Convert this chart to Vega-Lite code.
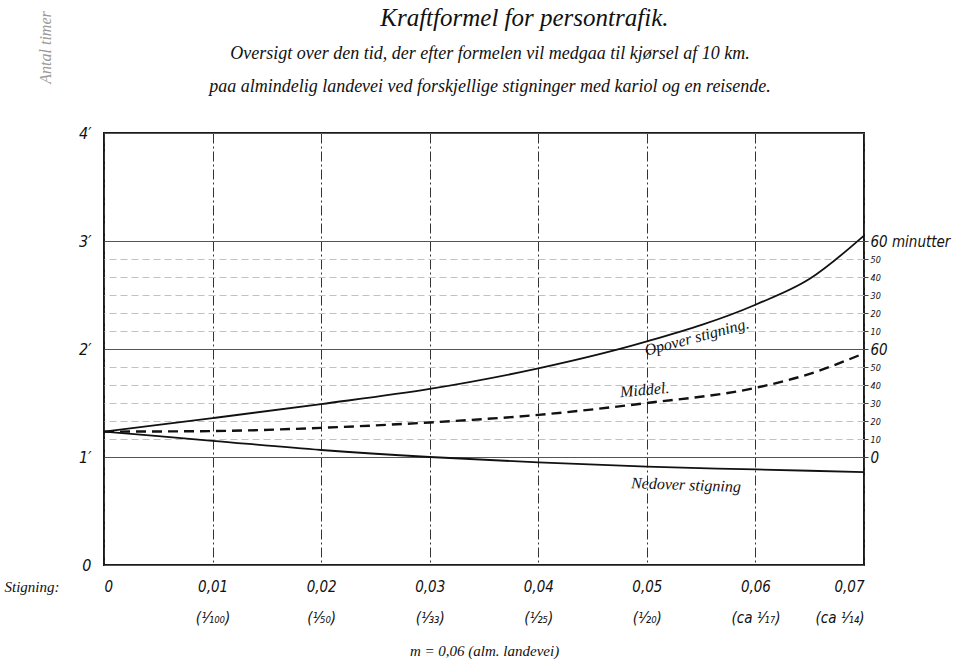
{
  "$schema": "https://vega.github.io/schema/vega-lite/v6.json",
  "width": 760,
  "height": 432,
  "autosize": "none",
  "padding": {"left": 104, "top": 133, "right": 89, "bottom": 98},
  "background": "white",
  "config": {
    "view": {"stroke": "#1a1a1a", "strokeWidth": 2},
    "font": "Liberation Serif"
  },
  "title": {
    "text": "\u200b\u00a0\u00a0\u00a0\u00a0\u00a0\u00a0\u00a0\u00a0\u00a0\u00a0\u00a0Kraftformel for persontrafik.",
    "subtitle": [
      "Oversigt over den tid, der efter formelen vil medgaa til kjørsel af 10 km.",
      "paa almindelig landevei ved forskjellige stigninger med kariol og en reisende."
    ],
    "anchor": "middle",
    "dx": 6,
    "offset": -85,
    "font": "Liberation Serif",
    "fontSize": 25,
    "fontStyle": "italic",
    "fontWeight": "normal",
    "color": "#111",
    "subtitleFont": "Liberation Serif",
    "subtitleFontSize": 18,
    "subtitleFontStyle": "italic",
    "subtitleColor": "#111",
    "subtitleLineHeight": 33,
    "subtitlePadding": 14
  },
  "datasets": {
    "curves": [
      {"serie": "Opover stigning", "stigning": 0, "timer": 1.235},
      {"serie": "Opover stigning", "stigning": 0.01, "timer": 1.36},
      {"serie": "Opover stigning", "stigning": 0.02, "timer": 1.49},
      {"serie": "Opover stigning", "stigning": 0.03, "timer": 1.63},
      {"serie": "Opover stigning", "stigning": 0.04, "timer": 1.82},
      {"serie": "Opover stigning", "stigning": 0.05, "timer": 2.07},
      {"serie": "Opover stigning", "stigning": 0.06, "timer": 2.41},
      {"serie": "Opover stigning", "stigning": 0.065, "timer": 2.65},
      {"serie": "Opover stigning", "stigning": 0.07, "timer": 3.05},
      {"serie": "Middel", "stigning": 0, "timer": 1.235},
      {"serie": "Middel", "stigning": 0.01, "timer": 1.24},
      {"serie": "Middel", "stigning": 0.02, "timer": 1.27},
      {"serie": "Middel", "stigning": 0.03, "timer": 1.32},
      {"serie": "Middel", "stigning": 0.04, "timer": 1.39},
      {"serie": "Middel", "stigning": 0.05, "timer": 1.5},
      {"serie": "Middel", "stigning": 0.06, "timer": 1.64},
      {"serie": "Middel", "stigning": 0.065, "timer": 1.77},
      {"serie": "Middel", "stigning": 0.07, "timer": 1.96},
      {"serie": "Nedover stigning", "stigning": 0, "timer": 1.235},
      {"serie": "Nedover stigning", "stigning": 0.01, "timer": 1.15},
      {"serie": "Nedover stigning", "stigning": 0.02, "timer": 1.065},
      {"serie": "Nedover stigning", "stigning": 0.03, "timer": 1.0},
      {"serie": "Nedover stigning", "stigning": 0.04, "timer": 0.95},
      {"serie": "Nedover stigning", "stigning": 0.05, "timer": 0.91},
      {"serie": "Nedover stigning", "stigning": 0.06, "timer": 0.885},
      {"serie": "Nedover stigning", "stigning": 0.07, "timer": 0.86}
    ]
  },
  "resolve": {"axis": {"x": "independent", "y": "independent"}},
  "layer": [
    {
      "data": {"name": "curves"},
      "transform": [{"filter": "datum.serie != 'Middel'"}],
      "mark": {"type": "line", "color": "#111", "strokeWidth": 1.8, "interpolate": "monotone"},
      "encoding": {
        "detail": {"field": "serie"},
        "x": {
          "field": "stigning", "type": "quantitative",
          "scale": {"domain": [0, 0.07], "nice": false, "zero": false},
          "axis": {
            "orient": "bottom",
            "values": [0, 0.01, 0.02, 0.03, 0.04, 0.05, 0.06, 0.07],
            "labelExpr": "datum.value == 0 ? '0' : replace(format(datum.value, '.2f'), '.', ',')",
            "grid": true, "gridDash": [10, 3, 2, 3], "gridColor": "#333", "gridWidth": 1,
            "ticks": false, "domain": false,
            "labelPadding": 14, "labelFont": "'Liberation Sans Narrow', 'DejaVu Sans Condensed', 'Liberation Sans', sans-serif",
            "labelFontSize": 15, "labelFontStyle": "italic", "labelColor": "#111",
            "title": "Stigning:", "titleX": -100, "titleY": 14, "titleAlign": "left",
            "titleBaseline": "top", "titleAnchor": "start",
            "titleFont": "Liberation Serif", "titleFontSize": 15, "titleFontStyle": "italic",
            "titleFontWeight": "normal", "titleColor": "#111"
          }
        },
        "y": {
          "field": "timer", "type": "quantitative",
          "scale": {"domain": [0, 4], "nice": false, "zero": false},
          "axis": {
            "orient": "left",
            "values": [0, 1, 2, 3, 4],
            "labelExpr": "datum.value == 0 ? '0' : datum.value + '′'",
            "grid": true, "gridColor": "#555", "gridWidth": 1.2,
            "ticks": false, "domain": false,
            "labelPadding": 13, "labelFont": "'Liberation Sans Narrow', 'DejaVu Sans Condensed', 'Liberation Sans', sans-serif",
            "labelFontSize": 16, "labelFontStyle": "italic", "labelColor": "#111",
            "title": "Antal timer", "titleX": -59, "titleY": -86, "titleAngle": -90,
            "titleAlign": "center", "titleBaseline": "middle",
            "titleFont": "Liberation Serif", "titleFontSize": 16, "titleFontStyle": "italic",
            "titleFontWeight": "normal", "titleColor": "#999"
          }
        }
      }
    },
    {
      "data": {"name": "curves"},
      "transform": [{"filter": "datum.serie == 'Middel'"}],
      "mark": {"type": "line", "color": "#111", "strokeWidth": 2.4, "strokeDash": [10, 6], "interpolate": "monotone"},
      "encoding": {
        "x": {
          "field": "stigning", "type": "quantitative",
          "scale": {"domain": [0, 0.07], "nice": false, "zero": false},
          "axis": {
            "orient": "bottom",
            "values": [0.01, 0.02, 0.03, 0.04, 0.05, 0.06, 0.07],
            "labelExpr": "['', '(¹⁄₁₀₀)', '(¹⁄₅₀)', '(¹⁄₃₃)', '(¹⁄₂₅)', '(¹⁄₂₀)', '(ca ¹⁄₁₇)', '(ca ¹⁄₁₄)'][round(datum.value * 100)]",
            "grid": false, "ticks": false, "domain": false,
            "labelPadding": 45, "labelFont": "'Liberation Sans Narrow', 'DejaVu Sans Condensed', 'Liberation Sans', sans-serif",
            "labelFontSize": 15, "labelFontStyle": "italic", "labelColor": "#111",
            "title": "m = 0,06 (alm. landevei)", "titleY": 78, "titleBaseline": "top",
            "titleFont": "Liberation Serif", "titleFontSize": 15, "titleFontStyle": "italic",
            "titleFontWeight": "normal", "titleColor": "#111"
          }
        },
        "y": {
          "field": "timer", "type": "quantitative",
          "scale": {"domain": [0, 4], "nice": false, "zero": false},
          "axis": {
            "orient": "right",
            "values": [1, 1.1666667, 1.3333333, 1.5, 1.6666667, 1.8333333, 2, 2.1666667, 2.3333333, 2.5, 2.6666667, 2.8333333, 3],
            "labelExpr": "abs(datum.value - 1) < 0.01 ? '0' : abs(datum.value - 3) < 0.01 ? '60 minutter' : abs(datum.value - 2) < 0.01 ? '60' : format(round((datum.value - floor(datum.value)) * 60), 'd')",
            "grid": true,
            "gridColor": {"condition": {"test": "abs(datum.value - round(datum.value)) < 0.01", "value": "transparent"}, "value": "#d9c56e"},
            "gridDash": [7, 4], "gridWidth": 1,
            "ticks": true, "tickSize": 4, "tickColor": "#444",
            "domain": false,
            "labelPadding": 2,
            "labelFont": "'Liberation Sans Narrow', 'DejaVu Sans Condensed', 'Liberation Sans', sans-serif",
            "labelFontSize": {"condition": {"test": "abs(datum.value - round(datum.value)) < 0.01", "value": 15}, "value": 9},
            "labelFontStyle": "italic", "labelColor": "#111",
            "title": null
          }
        }
      }
    },
    {
      "data": {"values": [{"label": "Opover stigning.", "stigning": 0.0546, "timer": 2.11}]},
      "mark": {"type": "text", "angle": -15, "font": "Liberation Serif", "fontSize": 16, "fontStyle": "italic", "color": "#111"},
      "encoding": {
        "x": {"field": "stigning", "type": "quantitative", "axis": null},
        "y": {"field": "timer", "type": "quantitative", "axis": null},
        "text": {"field": "label"}
      }
    },
    {
      "data": {"values": [{"label": "Middel.", "stigning": 0.0498, "timer": 1.62}]},
      "mark": {"type": "text", "angle": -5, "font": "Liberation Serif", "fontSize": 16, "fontStyle": "italic", "color": "#111"},
      "encoding": {
        "x": {"field": "stigning", "type": "quantitative", "axis": null},
        "y": {"field": "timer", "type": "quantitative", "axis": null},
        "text": {"field": "label"}
      }
    },
    {
      "data": {"values": [{"label": "Nedover stigning", "stigning": 0.0536, "timer": 0.74}]},
      "mark": {"type": "text", "angle": 2, "font": "Liberation Serif", "fontSize": 16, "fontStyle": "italic", "color": "#111"},
      "encoding": {
        "x": {"field": "stigning", "type": "quantitative", "axis": null},
        "y": {"field": "timer", "type": "quantitative", "axis": null},
        "text": {"field": "label"}
      }
    }
  ]
}
